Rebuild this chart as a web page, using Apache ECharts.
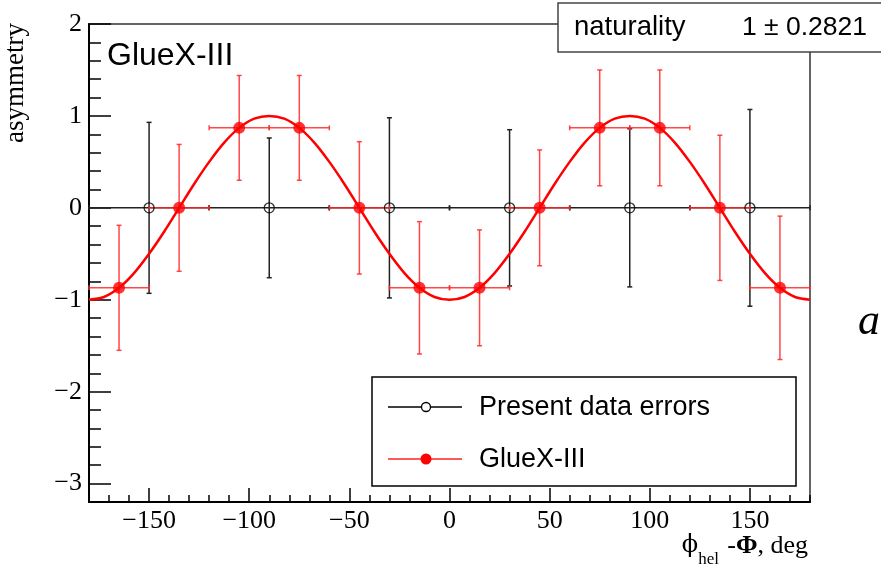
<!DOCTYPE html>
<html>
<head>
<meta charset="utf-8">
<script src="https://cdn.jsdelivr.net/npm/echarts@6/dist/echarts.min.js"></script>
<style>
html,body{margin:0;padding:0;background:#fff;}
#c{width:881px;height:566px;}
</style>
</head>
<body>
<div id="c"></div>
<script>
// ---- data ----
const xMajorTicks = [-150, -100, -50, 0, 50, 100, 150];
const yMajorTicks = [-3, -2, -1, 0, 1, 2];

const presentX    = [-150, -90, -30, 30, 90, 150];
const presentY    = [0, 0, 0, 0, 0, 0];
const presentXErr = [30, 30, 30, 30, 30, 30];
const presentYErr = [0.93, 0.76, 0.98, 0.85, 0.86, 1.07];

const gluexX    = [-165, -135, -105, -75, -45, -15, 15, 45, 75, 105, 135, 165];
const gluexY    = [-0.87, 0, 0.87, 0.87, 0, -0.87, -0.87, 0, 0.87, 0.87, 0, -0.87];
const gluexXErr = [15, 15, 15, 15, 15, 15, 15, 15, 15, 15, 15, 15];
const gluexYErr = [0.68, 0.69, 0.57, 0.57, 0.72, 0.72, 0.63, 0.63, 0.63, 0.63, 0.79, 0.78];

// fitted curve, every 7.5 deg
const fitX = [-180, -172.5, -165, -157.5, -150, -142.5, -135, -127.5, -120, -112.5, -105, -97.5,
              -90, -82.5, -75, -67.5, -60, -52.5, -45, -37.5, -30, -22.5, -15, -7.5,
              0, 7.5, 15, 22.5, 30, 37.5, 45, 52.5, 60, 67.5, 75, 82.5,
              90, 97.5, 105, 112.5, 120, 127.5, 135, 142.5, 150, 157.5, 165, 172.5, 180];
const fitY = [-1.0, -0.97, -0.87, -0.71, -0.5, -0.26, 0, 0.26, 0.5, 0.71, 0.87, 0.97,
              1.0, 0.97, 0.87, 0.71, 0.5, 0.26, 0, -0.26, -0.5, -0.71, -0.87, -0.97,
              -1.0, -0.97, -0.87, -0.71, -0.5, -0.26, 0, 0.26, 0.5, 0.71, 0.87, 0.97,
              1.0, 0.97, 0.87, 0.71, 0.5, 0.26, 0, -0.26, -0.5, -0.71, -0.87, -0.97, -1.0];

const statsName = 'naturality';
const statsValue = '1 \u00b1 0.2821';
// ------------------------------------

function zip4(a, b, c, d) { return a.map((v, i) => [v, b[i], c[i], d[i]]); }
function zip2(a, b) { return a.map((v, i) => [v, b[i]]); }

function errRender(color, cap) {
  return function (params, api) {
    const x = api.value(0), y = api.value(1), ex = api.value(2), ey = api.value(3);
    const l = api.coord([x - ex, y]), r = api.coord([x + ex, y]);
    const t = api.coord([x, y + ey]), b = api.coord([x, y - ey]);
    const st = { stroke: color, lineWidth: 1.5 };
    return {
      type: 'group',
      children: [
        { type: 'line', shape: { x1: l[0], y1: l[1], x2: r[0], y2: r[1] }, style: st },
        { type: 'line', shape: { x1: t[0], y1: t[1], x2: b[0], y2: b[1] }, style: st },
        { type: 'line', shape: { x1: t[0] - cap, y1: t[1], x2: t[0] + cap, y2: t[1] }, style: st },
        { type: 'line', shape: { x1: b[0] - cap, y1: b[1], x2: b[0] + cap, y2: b[1] }, style: st },
        { type: 'line', shape: { x1: l[0], y1: l[1] - cap, x2: l[0], y2: l[1] + cap }, style: st },
        { type: 'line', shape: { x1: r[0], y1: r[1] - cap, x2: r[0], y2: r[1] + cap }, style: st }
      ]
    };
  };
}

const minus = v => (v < 0 ? '\u2212' + Math.abs(v) : String(v));
const serif = '"Liberation Serif", "DejaVu Serif", serif';
const sans = '"Liberation Sans", Arial, sans-serif';

const chart = echarts.init(document.getElementById('c'), null, { renderer: 'canvas' });
chart.setOption({
  animation: false,
  backgroundColor: '#fff',
  grid: { left: 89, right: 71, top: 24, bottom: 64, show: true, borderColor: '#333', borderWidth: 1.5, backgroundColor: 'transparent' },
  xAxis: [
    {
      type: 'value', min: -180, max: 180, position: 'bottom',
      axisLine: { show: true, onZero: false, lineStyle: { color: '#000', width: 2 } },
      axisTick: { show: true, inside: true, length: 14, customValues: xMajorTicks, lineStyle: { color: '#000', width: 1.5 } },
      axisLabel: { show: true, customValues: xMajorTicks, formatter: minus, margin: 6, color: '#000', fontFamily: serif, fontSize: 26 },
      splitLine: { show: false }
    },
    {
      type: 'value', min: -180, max: 180, interval: 10, position: 'bottom',
      axisLine: { show: false, onZero: false },
      axisTick: { show: true, inside: true, length: 7, lineStyle: { color: '#000', width: 1.5 } },
      axisLabel: { show: false },
      splitLine: { show: false }
    }
  ],
  yAxis: [
    {
      type: 'value', min: -3.2, max: 2, position: 'left',
      axisLine: { show: true, onZero: false, lineStyle: { color: '#000', width: 2 } },
      axisTick: { show: true, inside: true, length: 22, customValues: yMajorTicks, lineStyle: { color: '#000', width: 1.5 } },
      axisLabel: { show: true, customValues: yMajorTicks, formatter: minus, margin: 7, color: '#000', fontFamily: serif, fontSize: 26 },
      splitLine: { show: false }
    },
    {
      type: 'value', min: -3.2, max: 2, interval: 0.2, position: 'left', offset: 0,
      axisLine: { show: false, onZero: false },
      axisTick: { show: true, inside: true, length: 12, lineStyle: { color: '#000', width: 1.5 } },
      axisLabel: { show: false },
      splitLine: { show: false }
    }
  ],
  series: [
    {
      name: 'Present data errors (bars)', type: 'custom', xAxisIndex: 0, yAxisIndex: 0,
      renderItem: errRender('#222', 2.5), encode: { x: 0, y: 1 },
      data: zip4(presentX, presentY, presentXErr, presentYErr), z: 2, silent: true
    },
    {
      name: 'GlueX-III (bars)', type: 'custom', xAxisIndex: 0, yAxisIndex: 0,
      renderItem: errRender('rgba(255,40,40,0.85)', 2.5), encode: { x: 0, y: 1 },
      data: zip4(gluexX, gluexY, gluexXErr, gluexYErr), z: 3, silent: true
    },
    {
      name: 'fit', type: 'line', xAxisIndex: 0, yAxisIndex: 0, smooth: 0.3,
      showSymbol: false, symbol: 'none',
      lineStyle: { color: '#ff0000', width: 2.5 },
      data: zip2(fitX, fitY), z: 4, silent: true
    },
    {
      name: 'Present data errors', type: 'scatter', xAxisIndex: 0, yAxisIndex: 0,
      symbol: 'circle', symbolSize: 10,
      itemStyle: { color: 'rgba(0,0,0,0)', borderColor: '#000', borderWidth: 1.3 },
      data: zip2(presentX, presentY), z: 5, silent: true
    },
    {
      name: 'GlueX-III', type: 'scatter', xAxisIndex: 0, yAxisIndex: 0,
      symbol: 'circle', symbolSize: 12,
      itemStyle: { color: '#ff0000' },
      data: zip2(gluexX, gluexY), z: 6, silent: true
    }
  ],
  graphic: [
    // plot title inside frame
    { type: 'text', left: 107, top: 40, z: 10, style: { text: 'GlueX-III', fontFamily: sans, fontSize: 32, fill: '#000' } },
    // stats box
    { type: 'rect', shape: { x: 558, y: 3, width: 340, height: 49 }, z: 20,
      style: { fill: '#fff', stroke: '#444', lineWidth: 1.5 } },
    { type: 'text', x: 574, y: 27, z: 21, style: { text: statsName, fontFamily: sans, fontSize: 27.5, fill: '#000', textAlign: 'left', textVerticalAlign: 'middle' } },
    { type: 'text', x: 867, y: 28, z: 21, style: { text: statsValue, fontFamily: sans, fontSize: 26.5, fill: '#000', textAlign: 'right', textVerticalAlign: 'middle' } },
    // legend box
    { type: 'rect', shape: { x: 372, y: 377, width: 424, height: 109 }, z: 20,
      style: { fill: '#fff', stroke: '#000', lineWidth: 1.5 } },
    { type: 'line', shape: { x1: 388, y1: 407, x2: 462, y2: 407 }, z: 21, style: { stroke: '#000', lineWidth: 1.3 } },
    { type: 'circle', shape: { cx: 426, cy: 407, r: 4.5 }, z: 22, style: { fill: '#fff', stroke: '#000', lineWidth: 1.3 } },
    { type: 'text', x: 479, y: 408, z: 21, style: { text: 'Present data errors', fontFamily: sans, fontSize: 27, fill: '#000', textAlign: 'left', textVerticalAlign: 'middle' } },
    { type: 'line', shape: { x1: 388, y1: 459, x2: 462, y2: 459 }, z: 21, style: { stroke: '#ff2020', lineWidth: 1.3 } },
    { type: 'circle', shape: { cx: 426, cy: 459, r: 5.5 }, z: 22, style: { fill: '#ff0000' } },
    { type: 'text', x: 479, y: 460, z: 21, style: { text: 'GlueX-III', fontFamily: sans, fontSize: 27, fill: '#000', textAlign: 'left', textVerticalAlign: 'middle' } },
    // y axis title
    { type: 'text', x: 16, y: 23, rotation: Math.PI / 2, z: 10,
      style: { text: 'asymmetry', fontFamily: serif, fontSize: 27, fill: '#000', textAlign: 'right', textVerticalAlign: 'middle' } },
    // x axis title
    { type: 'text', x: 808, y: 546, z: 10,
      style: { text: '-{b|\u03a6}, deg', fontFamily: serif, fontSize: 26, fill: '#000', textAlign: 'right', textVerticalAlign: 'middle',
        rich: { b: { fontFamily: serif, fontSize: 26, fontWeight: 'bold', fill: '#000' } } } },
    { type: 'text', x: 719, y: 560, z: 10,
      style: { text: 'hel', fontFamily: serif, fontSize: 17, fill: '#000', textAlign: 'right', textVerticalAlign: 'middle' } },
    { type: 'text', x: 698, y: 546, z: 10,
      style: { text: '\u03d5', fontFamily: '"DejaVu Serif", serif', fontSize: 24, fill: '#000', textAlign: 'right', textVerticalAlign: 'middle' } },
    // partially visible label at right edge
    { type: 'text', x: 858, y: 322, z: 10,
      style: { text: 'a', fontFamily: serif, fontSize: 44, fontStyle: 'italic', fill: '#000', textAlign: 'left', textVerticalAlign: 'middle' } }
  ]
});
</script>
</body>
</html>
